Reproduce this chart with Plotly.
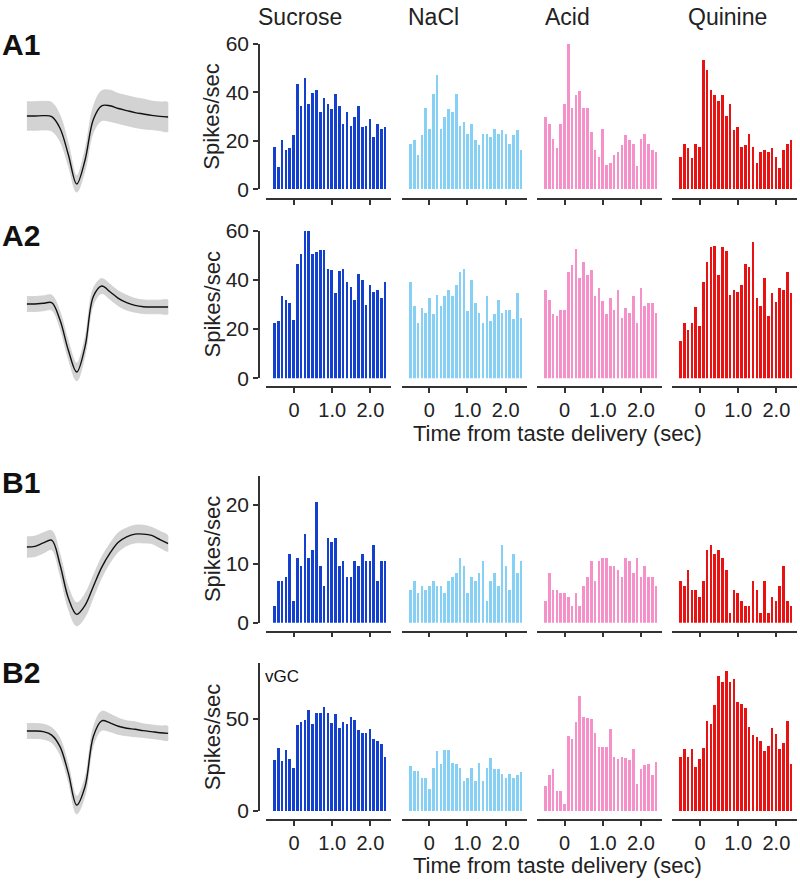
import plotly.graph_objects as go

W, H = 800, 881

tastes = ["Sucrose", "NaCl", "Acid", "Quinine"]
taste_colors = ["#1440d0", "#86d0f5", "#f590c8", "#e81212"]
row_labels = ["A1", "A2", "B1", "B2"]

# PSTH bin centers (sec from taste delivery)
bin_centers = [-0.5, -0.4, -0.3, -0.2, -0.1, 0.0, 0.1, 0.2, 0.3, 0.4,
               0.5, 0.6, 0.7, 0.8, 0.9, 1.0, 1.1, 1.2, 1.3, 1.4,
               1.5, 1.6, 1.7, 1.8, 1.9, 2.0, 2.1, 2.2, 2.3, 2.4]
x_tick_vals = [0, 1, 2]
x_tick_text = ["0", "1.0", "2.0"]

# Firing rates (spikes/sec)
A1_sucrose = [17.6, 9.4, 20.4, 16.2, 16.9, 22.3, 43.3, 34.4, 45.9, 35.2, 39.9, 41.1, 31.8, 37.7, 35.1,
              33.1, 39.2, 34.4, 27.0, 31.8, 26.3, 29.7, 34.4, 25.9, 26.3, 29.0, 21.6, 27.0, 24.9, 25.7]
A1_nacl = [18.7, 20.4, 14.2, 22.3, 33.7, 24.9, 39.2, 47.3, 24.9, 29.7, 33.0, 31.8, 39.2, 26.3, 27.6,
           23.0, 27.0, 20.4, 18.3, 23.0, 23.0, 21.6, 24.9, 23.0, 24.3, 23.0, 18.7, 22.3, 24.3, 16.2]
A1_acid = [29.7, 27.0, 20.9, 16.9, 27.0, 35.1, 60.2, 33.7, 39.1, 40.4, 33.7, 33.7, 23.7, 16.2, 13.5,
           24.9, 10.2, 10.9, 14.2, 15.5, 18.3, 22.3, 20.4, 18.8, 9.5, 20.9, 23.0, 18.8, 16.2, 15.5]
A1_quinine = [13.5, 18.8, 16.9, 12.9, 18.8, 17.6, 53.2, 49.1, 41.0, 39.1, 36.4, 39.1, 30.4, 35.1, 24.3,
              25.6, 17.6, 18.3, 23.0, 17.6, 10.9, 15.5, 16.2, 15.5, 16.9, 13.5, 8.8, 16.2, 18.8, 20.4]

A2_sucrose = [22.8, 23.3, 33.5, 32.1, 30.8, 24.0, 46.7, 50.8, 60.0, 60.0, 50.8, 51.5, 52.2, 52.2, 44.7,
              44.2, 34.7, 43.9, 44.7, 39.4, 37.4, 32.1, 42.7, 40.1, 30.1, 38.1, 35.4, 36.0, 32.8, 39.4]
A2_nacl = [39.4, 29.4, 22.8, 28.7, 26.8, 32.8, 26.2, 34.1, 29.4, 33.5, 36.0, 33.5, 38.1, 43.4, 44.7,
           27.4, 40.1, 30.8, 26.8, 22.8, 33.5, 23.4, 26.2, 32.1, 26.8, 28.0, 28.0, 24.1, 34.7, 24.8]
A2_acid = [36.0, 32.1, 26.2, 25.5, 28.0, 28.0, 43.4, 46.1, 52.7, 40.8, 47.4, 42.0, 44.0, 33.5, 36.7,
           31.4, 26.2, 32.8, 28.0, 36.0, 24.8, 28.7, 26.8, 33.5, 22.8, 36.7, 29.4, 30.8, 30.8, 26.8]
A2_quinine = [15.3, 22.6, 19.9, 22.6, 29.3, 21.3, 39.2, 47.3, 53.4, 54.1, 42.1, 53.4, 52.0, 34.0, 36.0,
              35.4, 38.1, 46.6, 45.4, 55.4, 32.8, 29.4, 40.8, 25.3, 34.7, 31.3, 36.7, 36.0, 43.5, 34.7]

B1_sucrose = [3.0, 7.1, 7.1, 7.8, 11.8, 3.75, 11.1, 9.8, 15.2, 11.1, 12.5, 20.6, 9.8, 6.4, 14.5,
              13.8, 14.5, 9.8, 10.5, 7.8, 7.8, 10.5, 9.8, 11.8, 10.5, 10.5, 13.2, 7.1, 10.5, 10.5]
B1_nacl = [5.7, 7.1, 5.1, 6.4, 5.7, 6.4, 7.1, 6.4, 6.4, 5.1, 7.1, 7.8, 8.5, 11.1, 9.8,
           5.1, 7.8, 7.1, 8.5, 10.5, 3.75, 7.1, 8.5, 6.4, 13.2, 9.8, 5.7, 11.8, 8.5, 10.5]
B1_acid = [3.75, 8.5, 5.7, 5.7, 5.1, 5.1, 4.4, 3.0, 5.1, 3.0, 6.4, 7.8, 10.5, 7.1, 10.5,
           11.1, 11.1, 9.8, 9.8, 9.1, 7.8, 11.1, 10.5, 8.5, 11.1, 7.8, 9.8, 7.8, 7.8, 6.4]
B1_quinine = [7.1, 6.4, 9.1, 5.7, 5.7, 4.4, 7.1, 12.5, 13.2, 11.8, 12.5, 11.1, 9.1, 1.7, 5.7,
              5.1, 3.75, 3.0, 3.0, 7.1, 5.7, 1.7, 7.1, 1.7, 4.4, 3.75, 6.4, 9.8, 3.75, 3.0]

B2_sucrose = [27.7, 33.7, 26.8, 33.0, 28.1, 23.4, 46.2, 48.2, 48.9, 54.3, 46.7, 53.1, 53.1, 56.3, 53.1,
              47.6, 52.4, 44.9, 48.2, 46.7, 50.9, 48.9, 43.5, 42.2, 42.2, 44.4, 38.9, 37.7, 36.2, 29.3]
B2_nacl = [24.1, 21.4, 21.4, 17.6, 17.9, 12.0, 23.4, 32.2, 25.4, 33.0, 33.0, 26.1, 25.4, 23.4, 16.1,
           17.9, 23.4, 16.1, 26.1, 16.1, 23.4, 28.8, 22.6, 22.6, 19.9, 17.9, 19.9, 17.9, 19.2, 20.7]
B2_acid = [13.4, 19.4, 22.8, 10.5, 10.5, 3.8, 40.6, 38.8, 48.2, 62.1, 50.7, 50.0, 49.5, 42.0, 34.6,
           34.6, 34.6, 44.2, 29.3, 28.1, 29.3, 28.6, 27.4, 33.3, 14.7, 22.8, 24.6, 25.4, 19.4, 26.6]
B2_quinine = [29.3, 33.5, 29.3, 33.5, 23.6, 28.1, 34.1, 48.6, 46.7, 57.4, 72.8, 69.7, 75.5, 69.7, 71.6,
              59.1, 58.0, 55.6, 45.5, 40.9, 40.0, 37.5, 32.1, 35.3, 44.7, 41.8, 33.3, 36.8, 48.6, 25.4]

psth = [
    [A1_sucrose, A1_nacl, A1_acid, A1_quinine],
    [A2_sucrose, A2_nacl, A2_acid, A2_quinine],
    [B1_sucrose, B1_nacl, B1_acid, B1_quinine],
    [B2_sucrose, B2_nacl, B2_acid, B2_quinine],
]
y_ranges = [[0, 60], [0, 60], [0, 25], [0, 80]]
y_ticks = [[0, 20, 40, 60], [0, 20, 40, 60], [0, 10, 20], [0, 50]]

# Spike waveforms (normalized amplitude, mean and SD)
wave_samples = [0, 1, 2, 3, 4, 5, 6, 7, 8, 9, 10, 11, 12, 13, 14, 15, 16, 17]
A1_wave = [0, 0, 0.005, -0.01, -0.18, -0.57, -1.0, -0.65, -0.05, 0.15, 0.15, 0.11, 0.08, 0.05, 0.03, 0.01, -0.005, -0.015]
A1_sd = [0.21, 0.21, 0.21, 0.21, 0.19, 0.16, 0.12, 0.15, 0.19, 0.22, 0.23, 0.22, 0.22, 0.22, 0.22, 0.21, 0.21, 0.21]
A2_wave = [0, 0, 0.01, 0.02, -0.235, -0.68, -1.0, -0.63, 0.11, 0.265, 0.18, 0.083, 0.02, -0.02, -0.04, -0.044, -0.044, -0.044]
A2_sd = [0.11, 0.11, 0.11, 0.11, 0.12, 0.13, 0.13, 0.13, 0.12, 0.11, 0.11, 0.11, 0.11, 0.10, 0.10, 0.10, 0.10, 0.10]
B1_wave = [0, 0.01, 0.06, 0.10, -0.26, -0.75, -0.99, -0.86, -0.58, -0.30, -0.09, 0.07, 0.15, 0.19, 0.19, 0.17, 0.11, 0.05]
B1_sd = [0.15, 0.15, 0.15, 0.14, 0.15, 0.16, 0.17, 0.17, 0.16, 0.15, 0.14, 0.14, 0.13, 0.13, 0.13, 0.12, 0.12, 0.11]
B2_wave = [0, 0, -0.01, -0.06, -0.23, -0.62, -1.09, -0.82, -0.08, 0.15, 0.12, 0.07, 0.04, 0.025, 0.005, -0.01, -0.025, -0.035]
B2_sd = [0.11, 0.11, 0.11, 0.11, 0.12, 0.12, 0.13, 0.13, 0.13, 0.14, 0.13, 0.12, 0.11, 0.11, 0.10, 0.10, 0.10, 0.10]
waves = [(A1_wave, A1_sd), (A2_wave, A2_sd), (B1_wave, B1_sd), (B2_wave, B2_sd)]

# ---------------- layout geometry (pixels) ----------------
def px_x(p):
    return p / W

def px_y(p):
    return 1 - p / H

col_zero_px = [294.0, 429.3, 564.6, 700.0]
sec_px = 38.2
x_range = [-0.72, 2.55]
row_zero_px = [189.3, 378.3, 622.7, 811.0]
row_top_px = [44.0, 230.7, 475.5, 663.3]
row_xline_px = [199.3, 387.3, 631.7, 820.0]
yaxis_line_px = 259.0
wave_base_px = [116.0, 304.0, 547.0, 731.0]
wave_unit_px = 68.0
wave_range = [-1.6, 0.7]

AX = "#333333"
TXT = "#222222"
FONT = "Arial, Liberation Sans, sans-serif"

fig = go.Figure()
layout = dict(
    width=W, height=H, autosize=False, margin=dict(l=0, r=0, t=0, b=0, pad=0),
    paper_bgcolor="white", plot_bgcolor="white", showlegend=False,
    font=dict(family=FONT, color=TXT, size=21),
    bargap=0,
)

for r in range(4):
    yname = "yaxis" if r == 0 else f"yaxis{r + 1}"
    layout[yname] = dict(
        domain=[px_y(row_zero_px[r]), px_y(row_top_px[r])],
        range=y_ranges[r], anchor="free", position=px_x(yaxis_line_px),
        showline=True, linecolor=AX, linewidth=1.5,
        ticks="outside", ticklen=5, tickcolor=AX, tickwidth=1.5,
        tickvals=y_ticks[r], showgrid=False, zeroline=False, automargin=False,
        tickfont=dict(size=21, color=TXT),
    )
    for c in range(4):
        n = r * 4 + c + 1
        xname = "xaxis" if n == 1 else f"xaxis{n}"
        z = col_zero_px[c]
        layout[xname] = dict(
            domain=[px_x(z + x_range[0] * sec_px), px_x(z + x_range[1] * sec_px)],
            range=x_range, anchor="free", position=px_y(row_xline_px[r]),
            showline=True, linecolor=AX, linewidth=1.5,
            ticks="outside", ticklen=5, tickcolor=AX, tickwidth=1.5,
            tickvals=x_tick_vals, ticktext=x_tick_text,
            showticklabels=(r in (1, 3)), automargin=False,
            showgrid=False, zeroline=False,
            tickfont=dict(size=20, color=TXT),
        )
        fig.add_trace(go.Bar(
            x=bin_centers, y=psth[r][c], width=0.068,
            marker=dict(color=taste_colors[c], line=dict(width=0)),
            xaxis="x" if n == 1 else f"x{n}",
            yaxis="y" if r == 0 else f"y{r + 1}",
            hoverinfo="skip",
        ))

# waveform axes
layout["xaxis17"] = dict(domain=[px_x(26.7), px_x(168.3)], range=[0, 17], visible=False, anchor="y5")
for r in range(4):
    yi = 5 + r
    base = wave_base_px[r]
    layout[f"yaxis{yi}"] = dict(
        domain=[px_y(base - wave_range[0] * wave_unit_px), px_y(base - wave_range[1] * wave_unit_px)],
        range=wave_range, visible=False, anchor="x17",
    )
    m, sd = waves[r]
    upper = [a + b for a, b in zip(m, sd)]
    lower = [a - b for a, b in zip(m, sd)]
    fig.add_trace(go.Scatter(
        x=wave_samples + wave_samples[::-1], y=upper + lower[::-1],
        fill="toself", fillcolor="#d3d3d3", line=dict(color="#cfcfcf", width=0.8, shape="spline"),
        mode="lines", xaxis="x17", yaxis=f"y{yi}", hoverinfo="skip",
    ))
    fig.add_trace(go.Scatter(
        x=wave_samples, y=m, mode="lines",
        line=dict(color="#111111", width=1.4, shape="spline"),
        xaxis="x17", yaxis=f"y{yi}", hoverinfo="skip",
    ))

annotations = []
title_x_px = [300, 433, 567, 727]
for c in range(4):
    annotations.append(dict(x=px_x(title_x_px[c]), y=px_y(17), xref="paper", yref="paper",
                            text=tastes[c], showarrow=False, xanchor="center", yanchor="middle",
                            font=dict(size=23, color=TXT)))
label_y_px = [44, 235, 482, 672]
for r in range(4):
    annotations.append(dict(x=0, y=px_y(label_y_px[r]), xref="paper", yref="paper",
                            text=f"<b>{row_labels[r]}</b>", showarrow=False, xanchor="left", yanchor="middle",
                            font=dict(size=30, color="#111111")))
    annotations.append(dict(x=px_x(212), y=px_y((row_zero_px[r] + row_top_px[r]) / 2), xref="paper", yref="paper",
                            text="Spikes/sec", textangle=-90, showarrow=False, xanchor="center", yanchor="middle",
                            font=dict(size=22, color=TXT)))
for ty in [433, 865]:
    annotations.append(dict(x=px_x(557), y=px_y(ty), xref="paper", yref="paper",
                            text="Time from taste delivery (sec)", showarrow=False,
                            xanchor="center", yanchor="middle", font=dict(size=22, color=TXT)))
annotations.append(dict(x=px_x(263), y=px_y(676), xref="paper", yref="paper", text="vGC",
                        showarrow=False, xanchor="left", yanchor="middle", font=dict(size=17, color="#111111")))
layout["annotations"] = annotations

fig.update_layout(**layout)
fig.write_html(
    "out.html",
    config={"responsive": False, "displayModeBar": False},
    post_script="document.body.style.margin='0';document.body.style.padding='0';document.body.style.overflow='hidden';",
)
